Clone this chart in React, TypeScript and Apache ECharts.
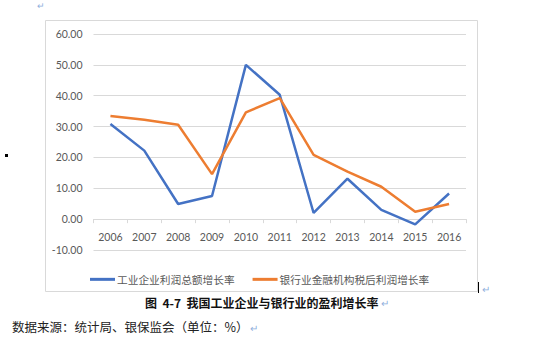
import React, { useEffect, useRef } from "react";
import * as echarts from "echarts";

const years = ["2006", "2007", "2008", "2009", "2010", "2011", "2012", "2013", "2014", "2015", "2016"];
const industrialProfitGrowth = [30.8, 22.2, 4.9, 7.5, 50.0, 40.3, 2.0, 13.1, 3.0, -1.7, 8.3];
const bankProfitGrowth = [33.4, 32.2, 30.6, 14.6, 34.6, 39.2, 20.8, 15.4, 10.5, 2.4, 4.9];
const seriesNames = ["工业企业利润总额增长率", "银行业金融机构税后利润增长率"];
const captionText = "图  4-7  我国工业企业与银行业的盈利增长率";
const sourceText = "数据来源：统计局、银保监会（单位：%）";
const yMin = -10;
const yMax = 60;

export default function App() {
  const ref = useRef<HTMLDivElement>(null);
  useEffect(() => {
    document.body.style.margin = "0";
    const chart = echarts.init(ref.current!, null, { renderer: "svg" });
    const numFont = "Lato, 'Open Sans', sans-serif";
    const cjkFont = "'Noto Sans CJK SC', sans-serif";
    const gridTop = 34;
    const gridBottom = 101;
    const plotH = 351 - gridTop - gridBottom;
    // shift the category axis up so that it sits on the zero line
    const zeroOffset = -(plotH * (0 - yMin)) / (yMax - yMin);
    chart.setOption({
      animation: false,
      backgroundColor: "#ffffff",
      grid: { left: 93.5, right: 84, top: gridTop, bottom: gridBottom, containLabel: false },
      xAxis: {
        type: "category",
        data: years,
        boundaryGap: true,
        offset: zeroOffset,
        axisLine: { onZero: false, lineStyle: { color: "#d9d9d9", width: 1 } },
        axisTick: { show: true, length: 4, lineStyle: { color: "#d9d9d9" } },
        axisLabel: { color: "#595959", fontSize: 10.5, fontFamily: numFont, margin: 12 },
      },
      yAxis: {
        type: "value",
        min: yMin,
        max: yMax,
        interval: 10,
        axisLine: { show: false },
        axisTick: { show: false },
        splitLine: { lineStyle: { color: "#d9d9d9", width: 1 } },
        axisLabel: {
          color: "#595959",
          fontSize: 10.5,
          fontFamily: numFont,
          margin: 11,
          formatter: (v: number) => v.toFixed(2),
        },
      },
      legend: {
        left: 85,
        top: 269,
        itemWidth: 25,
        itemHeight: 3,
        itemGap: 18,
        icon: "rect",
        textStyle: { color: "#595959", fontSize: 10.7, fontFamily: cjkFont, padding: [0, 0, 0, -3] },
        data: seriesNames,
      },
      series: [
        {
          name: seriesNames[0],
          type: "line",
          data: industrialProfitGrowth,
          symbol: "none",
          lineStyle: { color: "#4472C4", width: 2.5 },
          itemStyle: { color: "#4472C4" },
        },
        {
          name: seriesNames[1],
          type: "line",
          data: bankProfitGrowth,
          symbol: "none",
          lineStyle: { color: "#ED7D31", width: 2.5 },
          itemStyle: { color: "#ED7D31" },
        },
      ],
      graphic: [
        {
          type: "rect",
          shape: { x: 45.5, y: 20.5, width: 432, height: 271 },
          style: { fill: "none", stroke: "#d9d9d9", lineWidth: 1 },
          z: -1,
        },
        {
          type: "text",
          x: 37,
          y: 1,
          style: { text: "↵", fill: "#8fb0dd", fontSize: 9, fontFamily: cjkFont },
        },
        {
          type: "rect",
          shape: { x: 5, y: 154, width: 3, height: 3 },
          style: { fill: "#000" },
        },
        {
          type: "line",
          shape: { x1: 478.5, y1: 282, x2: 478.5, y2: 293 },
          style: { stroke: "#000", lineWidth: 1 },
        },
        {
          type: "text",
          x: 482,
          y: 283,
          style: { text: "↵", fill: "#8fb0dd", fontSize: 10, fontFamily: cjkFont },
        },
        {
          type: "text",
          x: 145,
          y: 296,
          style: { text: captionText, fill: "#111", fontSize: 12, fontWeight: "bold", fontFamily: cjkFont },
        },
        {
          type: "text",
          x: 381,
          y: 297,
          style: { text: "↵", fill: "#8fb0dd", fontSize: 10, fontFamily: cjkFont },
        },
        {
          type: "text",
          x: 12,
          y: 320,
          style: { text: sourceText, fill: "#222", fontSize: 12.5, fontFamily: cjkFont },
        },
        {
          type: "text",
          x: 250,
          y: 322,
          style: { text: "↵", fill: "#8fb0dd", fontSize: 10, fontFamily: cjkFont },
        },
      ],
    });
    return () => chart.dispose();
  }, []);
  return <div ref={ref} style={{ width: 550, height: 351 }} />;
}
